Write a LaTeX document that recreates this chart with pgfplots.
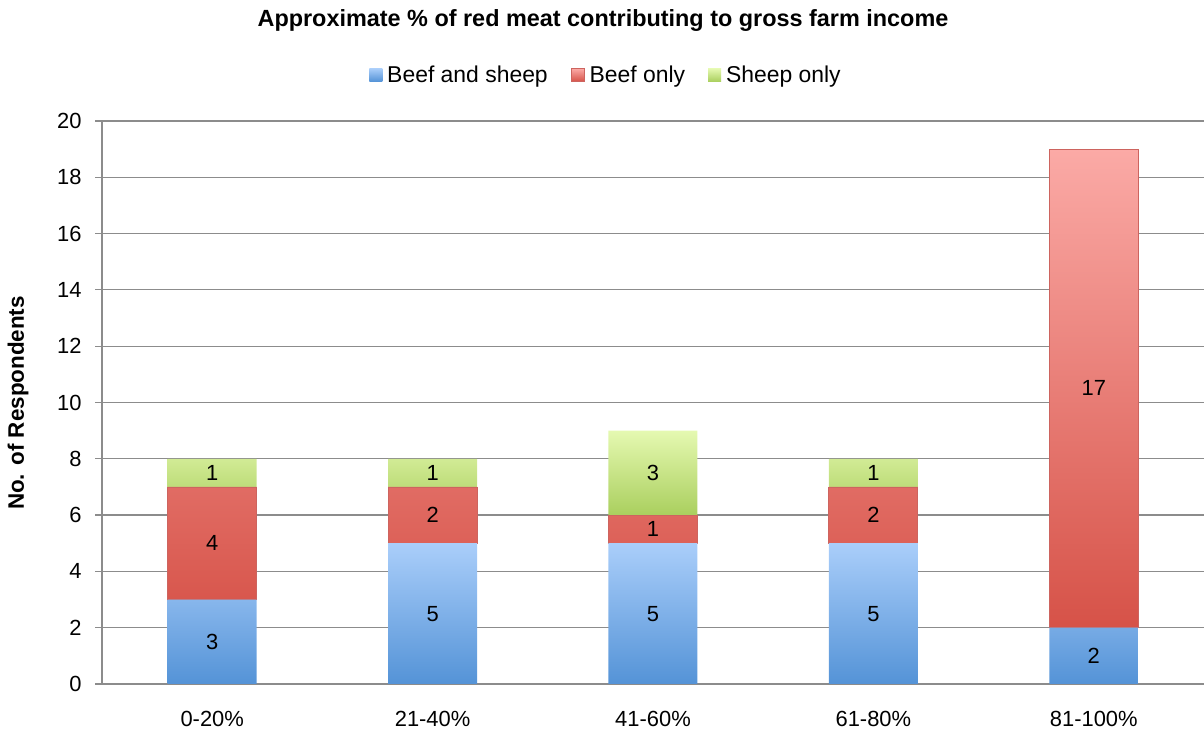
\documentclass[border=0pt]{standalone}
\usepackage{pgfplots}
\pgfplotsset{compat=1.18}
\usepackage{fontspec}
\setmainfont{Liberation Sans}
\definecolor{gridgray}{RGB}{140,140,140}
\definecolor{bluetop}{RGB}{170,206,250}
\definecolor{bluebot}{RGB}{84,147,215}
\definecolor{redtop}{RGB}{251,170,166}
\definecolor{redbot}{RGB}{214,82,72}
\definecolor{redline}{RGB}{205,100,95}
\definecolor{greentop}{RGB}{229,249,177}
\definecolor{greenbot}{RGB}{170,207,94}
\begin{document}
\begin{tikzpicture}
\path[use as bounding box] (0,0) rectangle (1204bp,737bp);
\node[font=\fontsize{23.5}{27}\selectfont\bfseries] at (603bp,716bp) {Approximate \% of red meat contributing to gross farm income};
\node[font=\fontsize{22.5}{26}\selectfont\bfseries, rotate=90] at (18bp,334bp) {No. of Respondents};
\begin{axis}[
  at={(102bp,53bp)}, anchor=south west,
  scale only axis, width=1102bp, height=563bp,
  ybar stacked, bar width=89bp,
  xmin=-0.5, xmax=4.5, ymin=0, ymax=20,
  ytick={0,2,...,20},
  xtick={0,1,2,3,4},
  xticklabels={0-20\%,21-40\%,41-60\%,61-80\%,81-100\%},
  extra x ticks={-0.5,0.5,1.5,2.5,3.5,4.5},
  extra x tick labels={},
  extra x tick style={major tick length=7bp, tick style={gridgray, line width=1.2bp}},
  x tick style={draw=none},
  major tick length=7bp,
  ytick style={gridgray, line width=1.2bp},
  tick align=outside,
  axis lines*=left,
  axis line style={gridgray, line width=1.2bp, -},
  ymajorgrids, major grid style={gridgray, line width=1.2bp},
  tick label style={font=\fontsize{22}{26}\selectfont},
  /pgf/number format/assume math mode=true,
  yticklabel style={xshift=-10bp},
  xticklabel style={yshift=-17bp},
  legend style={at={(0.5,1)}, anchor=center, xshift=-47bp, yshift=46bp, draw=none,
    legend columns=-1, font=\fontsize{23}{27}\selectfont,
    /tikz/every odd column/.append style={column sep=3bp},
    /tikz/every even column/.append style={column sep=21bp}},
  legend image code/.code={\path[#1] (0bp,-6.5bp) rectangle (13bp,6.5bp);},
]
\addplot[draw=none, top color=bluetop, bottom color=bluebot]
  coordinates {(0,3) (1,5) (2,5) (3,5) (4,2)};
\addplot[draw=redline, line width=0.8bp, top color=redtop, bottom color=redbot]
  coordinates {(0,4) (1,2) (2,1) (3,2) (4,17)};
\addplot[draw=none, top color=greentop, bottom color=greenbot]
  coordinates {(0,1) (1,1) (2,3) (3,1)};
\legend{Beef and sheep, Beef only, Sheep only}
\end{axis}
\begin{axis}[
  at={(102bp,53bp)}, anchor=south west,
  scale only axis, width=1102bp, height=563bp,
  xmin=-0.5, xmax=4.5, ymin=0, ymax=20,
  hide axis,
  nodes near coords, point meta=explicit symbolic,
  every node near coord/.append style={anchor=center, font=\fontsize{22}{26}\selectfont, text=black},
]
\addplot[draw=none, mark=none] coordinates {(0,1.5)[3] (1,2.5)[5] (2,2.5)[5] (3,2.5)[5] (4,1)[2]};
\addplot[draw=none, mark=none] coordinates {(0,5)[4] (1,6)[2] (2,5.5)[1] (3,6)[2] (4,10.5)[17]};
\addplot[draw=none, mark=none] coordinates {(0,7.5)[1] (1,7.5)[1] (2,7.5)[3] (3,7.5)[1]};
\end{axis}
\end{tikzpicture}
\end{document}
